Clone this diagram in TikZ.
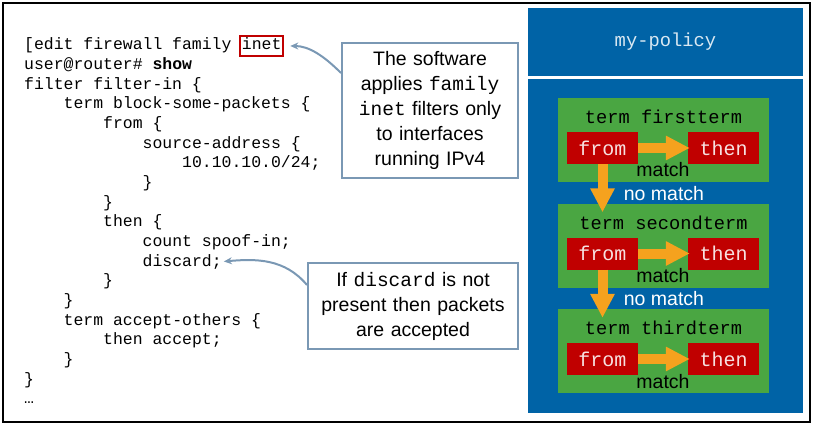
\documentclass[tikz,border=0pt]{standalone}
\usepackage{fontspec}
\setmainfont{Liberation Sans}
\setmonofont{Liberation Mono}
\usepackage{tikz}
\usetikzlibrary{arrows.meta, positioning, calc}
\usepackage{xcolor}

\definecolor{policyblue}{RGB}{0,99,166}
\definecolor{termgreen}{RGB}{74,166,66}
\definecolor{actred}{RGB}{192,0,0}
\definecolor{flowgold}{RGB}{245,162,30}
\definecolor{notegray}{RGB}{122,152,180}

\begin{document}
\begin{tikzpicture}[
        x=1pt, y=-1pt,
        code/.style={anchor=base west, inner sep=0pt, font=\ttfamily\fontsize{16.45}{19.65}\selectfont},
        inetbox/.style={draw=actred, line width=1.8pt, inner xsep=2pt, text height=14pt, text depth=6pt},
        note/.style={draw=notegray, line width=2pt, fill=white, align=center, inner xsep=3pt, inner ysep=0pt, font=\fontsize{19.5}{25}\selectfont},
        pointer/.style={draw=notegray, line width=2pt, -{Stealth[length=8pt,width=7pt]}},
        panel/.style={fill=policyblue, minimum width=275pt, inner sep=0pt},
        termbox/.style={fill=termgreen, minimum width=211pt, minimum height=84pt, inner sep=0pt},
        termname/.style={font=\ttfamily\fontsize{18.7}{20}\selectfont, inner sep=0pt},
        actbox/.style={fill=actred, minimum width=71pt, minimum height=32pt, inner sep=0pt, text=white!88!actred, font=\ttfamily\fontsize{20}{22}\selectfont},
        flow/.style={draw=flowgold, line width=10pt, -{Triangle[length=24pt,width=23pt]}},
        result/.style={font=\fontsize{19.5}{22}\selectfont, inner sep=0pt}
      ]
      \useasboundingbox (0,0) rectangle (815,428);
      \draw[line width=1.6pt] (3,3) rectangle (810,422);

      % Configuration listing
      \node[code] (line1) at (24,50) {[edit firewall family};
      \node[code, inetbox] (inet) at (239,50) {inet};
      \node[code] (line2) at (24,69.65) {user@router\# \textbf{show}};
      \node[code] (line3) at (24,89.3) {filter filter-in \{};
      \node[code] (line4) at (63.5,108.95) {term block-some-packets \{};
      \node[code] (line5) at (103,128.6) {from \{};
      \node[code] (line6) at (142.5,148.25) {source-address \{};
      \node[code] (line7) at (182,167.9) {10.10.10.0/24;};
      \node[code] (line8) at (142.5,187.55) {\}};
      \node[code] (line9) at (103,207.2) {\}};
      \node[code] (line10) at (103,226.85) {then \{};
      \node[code] (line11) at (142.5,246.5) {count spoof-in;};
      \node[code] (discard) at (142.5,266.15) {discard;};
      \node[code] (line13) at (103,285.8) {\}};
      \node[code] (line14) at (63.5,305.45) {\}};
      \node[code] (line15) at (63.5,325.1) {term accept-others \{};
      \node[code] (line16) at (103,344.75) {then accept;};
      \node[code] (line17) at (63.5,364.4) {\}};
      \node[code] (line18) at (24,384.05) {\}};
      \node[code] (line19) at (24,403.7) {\dots};

      % Callouts
      \node[note, text width=170pt, minimum height=135pt] (note1) at (430,110.5)
        {The software\\applies \texttt{family}\\\texttt{inet} filters only\\to interfaces\\running IPv4};
      \node[note, text width=204pt, minimum height=86pt] (note2) at (413,306)
        {If \texttt{discard} is not\\present then packets\\are accepted};

      \draw[pointer, shorten >=6pt] (note1.west |- 0,73) to[out=135, in=0] (inet.east);
      \draw[pointer, shorten >=2pt] (note2.west |- 0,285) to[out=130, in=5] (discard.east);

      % Policy chain
      \node[panel, minimum height=68pt, text=white!85!policyblue, font=\ttfamily\fontsize{18.8}{20}\selectfont] (policy) at (665.5,42) {my-policy};
      \node[panel, minimum height=334pt] (chain) at (665.5,246) {};

      \node[termbox] (termA) at (663.5,140) {};
      \node[termname] (nameA) at (663.5,117) {term firstterm};
      \node[actbox] (fromA) at (602.5,148) {from};
      \node[actbox] (thenA) at (723.5,148) {then};

      \node[termbox] (termB) at (663.5,245.5) {};
      \node[termname] (nameB) at (663.5,222.5) {term secondterm};
      \node[actbox] (fromB) at (602.5,253.5) {from};
      \node[actbox] (thenB) at (723.5,253.5) {then};

      \node[termbox] (termC) at (663.5,351) {};
      \node[termname] (nameC) at (663.5,328) {term thirdterm};
      \node[actbox] (fromC) at (602.5,359) {from};
      \node[actbox] (thenC) at (723.5,359) {then};

      % Arrows
      \draw[flow] (fromA.east) -- ($(thenA.west)+(2,0)$);
      \draw[flow] (fromB.east) -- ($(thenB.west)+(2,0)$);
      \draw[flow] (fromC.east) -- ($(thenC.west)+(2,0)$);
      \draw[flow] (fromA.south) -- ($(fromA.south |- termB.north)+(0,9)$);
      \draw[flow] (fromB.south) -- ($(fromB.south |- termC.north)+(0,9)$);

      \node[result] (matchA) at (663,170) {match};
      \node[result] (matchB) at (663,276) {match};
      \node[result] (matchC) at (663,381.5) {match};
      \node[result, text=white] (missA) at (664,194) {no match};
      \node[result, text=white] (missB) at (664,299) {no match};
  \end{tikzpicture}
\end{document}
